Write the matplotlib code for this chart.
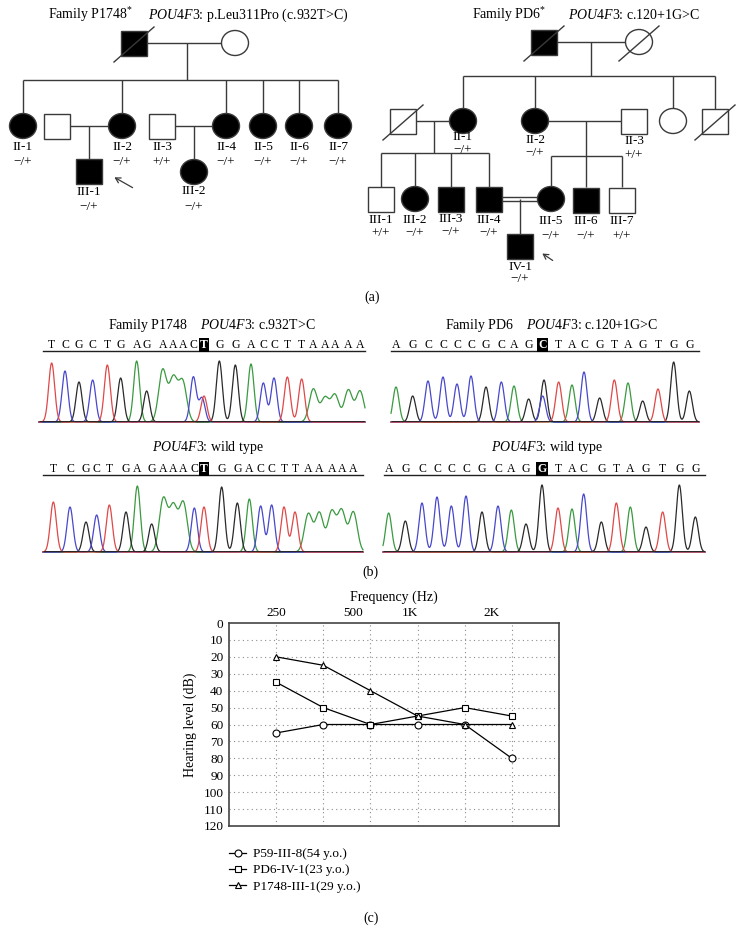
import numpy as np
import matplotlib
matplotlib.use('Agg')
import matplotlib.pyplot as plt
from matplotlib.patches import Rectangle, Ellipse

plt.rcParams['font.family'] = ['Liberation Serif', 'DejaVu Serif']
plt.rcParams['mathtext.fontset'] = 'custom'
plt.rcParams['mathtext.rm'] = 'Liberation Serif'
plt.rcParams['mathtext.it'] = 'Liberation Serif:italic'
plt.rcParams['mathtext.bf'] = 'Liberation Serif:bold'

# ------------------------------------------------------------------ data
# (a) pedigree, family P1748
p1748_id = ['I-1', 'I-2', 'II-1', 'II-sp', 'II-2', 'II-3', 'II-4', 'II-5', 'II-6', 'II-7', 'III-1', 'III-2']
p1748_sex = ['M', 'F', 'F', 'M', 'F', 'M', 'F', 'F', 'F', 'F', 'M', 'F']
p1748_aff = [1, 0, 1, 0, 1, 0, 1, 1, 1, 1, 1, 1]
p1748_dead = [1, 0, 0, 0, 0, 0, 0, 0, 0, 0, 0, 0]
p1748_geno = ['', '', '−/+', '', '−/+', '+/+', '−/+', '−/+', '−/+', '−/+', '−/+', '−/+']
p1748_named = [0, 0, 1, 0, 1, 1, 1, 1, 1, 1, 1, 1]

# (a) pedigree, family PD6
pd6_id = ['I-1', 'I-2', 'II-sp', 'II-1', 'II-2', 'II-3', 'II-x', 'II-y',
          'III-1', 'III-2', 'III-3', 'III-4', 'III-5', 'III-6', 'III-7', 'IV-1']
pd6_sex = ['M', 'F', 'M', 'F', 'F', 'M', 'F', 'M', 'M', 'F', 'M', 'M', 'F', 'M', 'M', 'M']
pd6_aff = [1, 0, 0, 1, 1, 0, 0, 0, 0, 1, 1, 1, 1, 1, 0, 1]
pd6_dead = [1, 1, 1, 0, 0, 0, 0, 1, 0, 0, 0, 0, 0, 0, 0, 0]
pd6_geno = ['', '', '', '−/+', '−/+', '+/+', '', '', '+/+', '−/+', '−/+', '−/+', '−/+', '−/+', '+/+', '−/+']
pd6_named = [0, 0, 0, 1, 1, 1, 0, 0, 1, 1, 1, 1, 1, 1, 1, 1]

# (b) chromatograms: called bases, peak scan positions, peak heights
lt_seq = 'TCGCTGAGAAACTGGACCTTAAAAA'
lt_x = [155, 195, 237, 278, 322, 362, 410, 440, 488, 520, 548, 580, 612, 658, 706, 753, 790, 822, 862, 905, 940, 975, 1005, 1045, 1080]
lt_h = [59, 51, 40, 42, 57, 44, 61, 31, 52, 43, 40, 45, 26, 61, 57, 58, 39, 44, 45, 43, 33, 24, 27, 32, 31]
lt_het = [(606, 24, 'C')]
lt_mut = 12

lb_seq = 'TCGCTGAGAAACTGGACCTTAAAAA'
lb_x = [160, 210, 258, 290, 328, 378, 412, 455, 490, 520, 550, 583, 612, 665, 712, 748, 782, 815, 852, 885, 925, 958, 995, 1025, 1060]
lb_h = [50, 45, 30, 37, 47, 40, 66, 28, 53, 45, 49, 44, 45, 65, 49, 53, 46, 47, 45, 40, 38, 39, 40, 41, 40]
lb_het = []
lb_mut = 12

rt_seq = 'AGCCCCGCAGCTACGTAGTGG'
rt_x = [72, 122, 168, 213, 255, 297, 342, 388, 426, 470, 512, 560, 600, 636, 683, 727, 768, 812, 858, 905, 952]
rt_h = [35, 26, 41, 45, 38, 46, 35, 40, 36, 23, 26, 40, 37, 50, 24, 42, 39, 21, 33, 60, 31]
rt_het = [(516, 42, 'G')]
rt_mut = 10

rb_seq = 'AGCCCCGCAGGTACGTAGTGG'
rb_x = [50, 100, 150, 195, 238, 282, 330, 378, 418, 462, 510, 558, 600, 635, 688, 733, 775, 822, 872, 922, 970]
rb_h = [39, 31, 49, 55, 46, 56, 40, 46, 42, 28, 67, 44, 43, 58, 30, 49, 45, 25, 40, 67, 35]
rb_het = []
rb_mut = 10

# (c) audiogram
freq_labels = ['250', '500', '1K', '2K']
test_points = [1, 2, 3, 4, 5, 6]
series_names = ['P59-III-8(54 y.o.)', 'PD6-IV-1(23 y.o.)', 'P1748-III-1(29 y.o.)']
p59_db = [65, 60, 60, 60, 60, 80]
pd6_db = [35, 50, 60, 55, 50, 55]
p1748_db = [20, 25, 40, 55, 60, 60]
db_ticks = list(range(0, 121, 10))

# ------------------------------------------------------------------ layout
W, H = 744, 944
fig = plt.figure(figsize=(W / 100, H / 100), dpi=100)
ax0 = fig.add_axes([0, 0, 1, 1])
ax0.set_xlim(0, W)
ax0.set_ylim(H, 0)
ax0.axis('off')

LINE = '#3a3a3a'
FS = 9.5


def px_axes(x0, y0, x1, y1):
    return fig.add_axes([x0 / W, 1 - y1 / H, (x1 - x0) / W, (y1 - y0) / H])


def seg(x0, y0, x1, y1, lw=1.0):
    ax0.plot([x0, x1], [y0, y1], color=LINE, lw=lw, solid_capstyle='butt')


def txt(x, y, s, ha='center', fs=FS, **kw):
    ax0.text(x, y, s, ha=ha, va='center', fontsize=fs, **kw)


def person(x, y, sex, aff, dead):
    fc = 'black' if aff else 'white'
    if sex == 'M':
        p = Rectangle((x - 13, y - 12.5), 26, 25, fc=fc, ec=LINE, lw=1.0, zorder=3)
    else:
        p = Ellipse((x, y), 27, 25, fc=fc, ec=LINE, lw=1.0, zorder=3)
    ax0.add_patch(p)
    if dead:
        ax0.plot([x - 20, x + 20], [y + 19, y - 16], color=LINE, lw=1.0, zorder=4)


def mating(xa, xb, y, drop_x, kids_x, kids_y, sib_y=None, double=False):
    x0, x1 = sorted([xa, xb])
    if double:
        seg(x0 + 13, y - 2, x1 - 13, y - 2)
        seg(x0 + 13, y + 2, x1 - 13, y + 2)
    else:
        seg(x0 + 13, y, x1 - 13, y)
    top = kids_y - 12.5
    if sib_y is None:
        seg(drop_x, y, drop_x, top)
    else:
        seg(drop_x, y, drop_x, sib_y)
        seg(min(kids_x), sib_y, max(kids_x), sib_y)
        for kx in kids_x:
            seg(kx, sib_y, kx, top)


def draw_family(ids, sex, aff, dead, geno, named, lay):
    for i, pid in enumerate(ids):
        x, y, ly, gy = lay[pid]
        person(x, y, sex[i], aff[i], dead[i])
        if named[i]:
            txt(x, ly, pid)
        if geno[i]:
            txt(x, gy, geno[i])


# ---- (a) P1748
lay1748 = {'I-1': (134, 43, 0, 0), 'I-2': (235, 43, 0, 0),
           'II-1': (23, 126, 147, 162), 'II-sp': (57, 126, 0, 0), 'II-2': (122, 126, 147, 162),
           'II-3': (162, 126, 147, 162), 'II-4': (226, 126, 147, 162), 'II-5': (263, 126, 147, 162),
           'II-6': (299, 126, 147, 162), 'II-7': (338, 126, 147, 162),
           'III-1': (89, 171, 192, 207), 'III-2': (194, 172, 191, 207)}
mating(134, 235, 43, 187, [23, 122, 226, 263, 299, 338], 126, sib_y=80)
mating(57, 122, 126, 89, [89], 171)
mating(162, 226, 126, 194, [194], 172)
draw_family(p1748_id, p1748_sex, p1748_aff, p1748_dead, p1748_geno, p1748_named, lay1748)
ax0.annotate('', xy=(112, 176), xytext=(135, 189),
             arrowprops=dict(arrowstyle='->,head_length=0.35,head_width=0.2', lw=0.9, color=LINE))
txt(90, 15, 'Family P1748$^{*}$', fs=10)
txt(148, 15, '$\\it{POU4F3}$: p.Leu311Pro (c.932T>C)', ha='left', fs=10)

# ---- (a) PD6
laypd6 = {'I-1': (544, 42, 0, 0), 'I-2': (639, 42, 0, 0),
          'II-sp': (403, 121, 0, 0), 'II-1': (463, 121, 136.5, 150), 'II-2': (535, 121, 140, 153),
          'II-3': (634, 121, 141, 155), 'II-x': (673, 121, 0, 0), 'II-y': (715, 121, 0, 0),
          'III-1': (381, 199, 220, 233), 'III-2': (415, 199, 220, 233), 'III-3': (451, 199, 219, 232),
          'III-4': (489, 199, 220, 233), 'III-5': (551, 199, 221, 236), 'III-6': (586, 200, 221, 236),
          'III-7': (622, 200, 221, 236), 'IV-1': (520, 246, 267, 279)}
mating(544, 639, 42, 591, [463, 535, 673, 715], 121, sib_y=76)
mating(403, 463, 121, 434, [381, 415, 451, 489], 199, sib_y=153)
mating(535, 634, 121, 586, [551, 586, 622], 199, sib_y=156)
mating(489, 551, 199, 520, [520], 246, double=True)
draw_family(pd6_id, pd6_sex, pd6_aff, pd6_dead, pd6_geno, pd6_named, laypd6)
ax0.annotate('', xy=(540, 252), xytext=(555, 262),
             arrowprops=dict(arrowstyle='->,head_length=0.35,head_width=0.2', lw=0.9, color=LINE))
txt(509, 15, 'Family PD6$^{*}$', fs=10)
txt(568, 15, '$\\it{POU4F3}$: c.120+1G>C', ha='left', fs=10)

txt(372, 297, '(a)', fs=10)

# ---- (b) chromatograms
BASE_COL = {'A': '#3a9a40', 'C': '#4848cc', 'G': '#2a2a2a', 'T': '#e04848'}


def chrom(seq, xs, hs, het, mut, xoff, left, right, base_y, ul_y, let_y, ul_x0, ul_x1):
    top_y = ul_y
    ax = px_axes(left, top_y, right, base_y)
    ax.set_xlim((left - xoff) * 3, (right - xoff) * 3)
    ax.set_ylim(0, base_y - top_y)
    ax.axis('off')
    pk_x = list(xs) + [p[0] for p in het]
    pk_h = list(hs) + [p[1] for p in het]
    pk_b = list(seq) + [p[2] for p in het]
    pk_s = []
    for i, b in enumerate(pk_b):
        run = False
        if i < len(seq) and b == 'A':
            run = (i > 0 and seq[i - 1] == 'A') or (i + 1 < len(seq) and seq[i + 1] == 'A')
        pk_s.append(12.0 if run else 9.0)
    grid = np.linspace((left - xoff) * 3, (right - xoff) * 3, 1500)
    for b in 'AGCT':
        y = np.zeros_like(grid)
        for x, h, bb, s in zip(pk_x, pk_h, pk_b, pk_s):
            if bb == b:
                y += h * np.exp(-0.5 * ((grid - x) / s) ** 2)
        ax.plot(grid, y, color=BASE_COL[b], lw=0.9, clip_on=False, zorder=2)
    ax.plot([grid[0], grid[-1]], [0, 0], color='#202020', lw=2.0, zorder=3, solid_capstyle='butt')
    tr = ax.get_xaxis_transform()
    ly = (base_y - let_y) / (base_y - top_y)
    for i, (c, x) in enumerate(zip(seq, xs)):
        if i == mut:
            ax.text(x, ly, c, transform=tr, ha='center', va='center', fontsize=8.5, color='white',
                    fontweight='bold', clip_on=False,
                    bbox=dict(facecolor='black', edgecolor='none', pad=0.9))
        else:
            ax.text(x, ly, c, transform=tr, ha='center', va='center', fontsize=8.5, clip_on=False)
    ax.plot([(ul_x0 - xoff) * 3, (ul_x1 - xoff) * 3], [1.0, 1.0], transform=tr, color='#202020',
            lw=1.0, clip_on=False)


chrom(lt_seq, lt_x, lt_h, lt_het, lt_mut, 0, 39, 365, 422, 351, 345, 43, 365)
chrom(lb_seq, lb_x, lb_h, lb_het, lb_mut, 0, 43, 363, 552, 475, 469, 43, 363)
chrom(rt_seq, rt_x, rt_h, rt_het, rt_mut, 372, 391, 699, 422, 351, 345, 391, 699)
chrom(rb_seq, rb_x, rb_h, rb_het, rb_mut, 372, 383, 705, 552, 475, 469, 384, 705)

txt(212, 325, 'Family P1748    $\\it{POU4F3}$: c.932T>C', fs=10)
txt(208, 447, '$\\it{POU4F3}$: wild type', fs=10)
txt(552, 325, 'Family PD6    $\\it{POU4F3}$: c.120+1G>C', fs=10)
txt(547, 447, '$\\it{POU4F3}$: wild type', fs=10)
txt(370, 572, '(b)', fs=10)

# ---- (c) audiogram
axc = px_axes(229, 623, 559, 826)
axc.set_xlim(0, 7)
axc.set_ylim(120, 0)
for v in test_points:
    axc.axvline(v, color='#8c8c8c', lw=0.8, ls=(0, (1, 3)), zorder=1)
for v in db_ticks[1:-1]:
    axc.axhline(v, color='#8c8c8c', lw=0.8, ls=(0, (1, 3)), zorder=1)
markers = ['o', 's', '^']
for name, vals, m in zip(series_names, [p59_db, pd6_db, p1748_db], markers):
    axc.plot(test_points, vals, color='black', lw=0.9, marker=m, ms=5, mfc='white',
             mec='black', mew=0.8, label=name, zorder=3)
axc.set_yticks(db_ticks)
axc.tick_params(axis='y', length=0, pad=4, labelsize=FS)
axc.xaxis.tick_top()
axc.set_xticks([1, 2.63, 3.84, 5.58], freq_labels)
axc.tick_params(axis='x', length=0, pad=3, labelsize=FS)
for sp in axc.spines.values():
    sp.set_color('#444444')
    sp.set_linewidth(1.2)
axc.text(-0.118, 0.5, 'Hearing level (dB)', rotation=90, transform=axc.transAxes,
         ha='center', va='center', fontsize=10)
axc.text(0.5, (826 - 597) / 203, 'Frequency (Hz)', transform=axc.transAxes,
         ha='center', va='center', fontsize=10)
axc.legend(loc='upper left', bbox_to_anchor=(229 / W, 1 - 848 / H), bbox_transform=fig.transFigure,
           frameon=False, fontsize=FS, handlelength=1.3, handletextpad=0.5, labelspacing=0.3,
           borderpad=0, borderaxespad=0)
txt(371, 918, '(c)', fs=10)

fig.savefig('out.png', dpi=100)
